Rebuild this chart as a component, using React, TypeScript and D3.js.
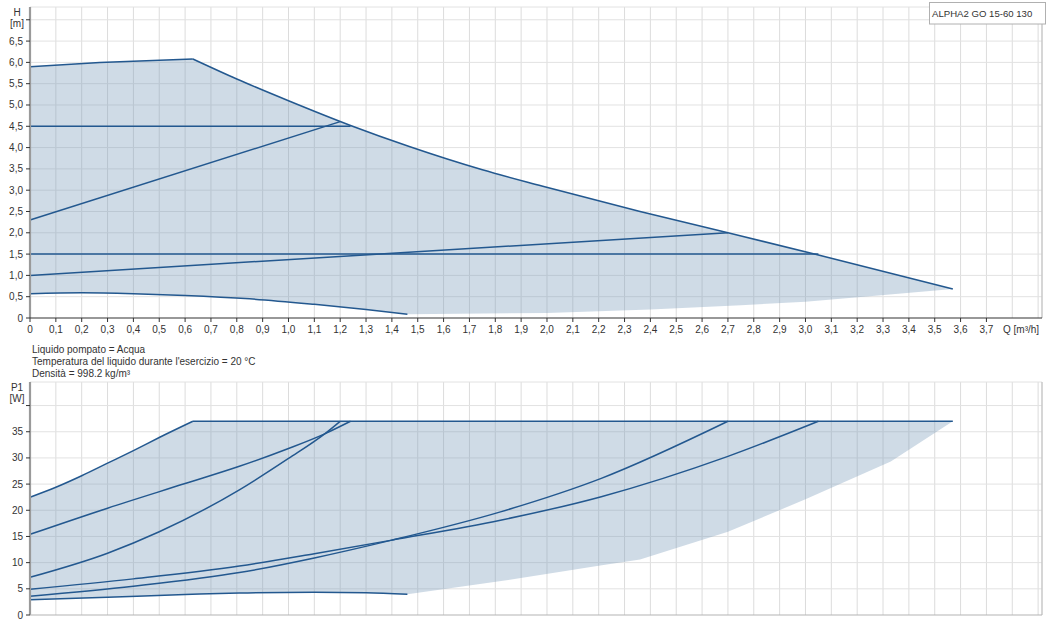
import { curveLinear, curveMonotoneX, line as d3Line, range, scaleLinear, select } from "d3";
import { useEffect, useRef } from "react";

type Pt = [number, number];

// Q tick labels (m³/h)
const qTicks = [
  0, 0.1, 0.2, 0.3, 0.4, 0.5, 0.6, 0.7, 0.8, 0.9, 1.0, 1.1, 1.2, 1.3, 1.4, 1.5, 1.6, 1.7, 1.8,
  1.9, 2.0, 2.1, 2.2, 2.3, 2.4, 2.5, 2.6, 2.7, 2.8, 2.9, 3.0, 3.1, 3.2, 3.3, 3.4, 3.5, 3.6, 3.7,
];
const hTicks = [0, 0.5, 1, 1.5, 2, 2.5, 3, 3.5, 4, 4.5, 5, 5.5, 6, 6.5];
const pTicks = [0, 5, 10, 15, 20, 25, 30, 35];

// head curves H [m]
const hMaxRise: Pt[] = [[0, 5.9], [0.27, 6.0], [0.63, 6.08]];
const hMaxFall: Pt[] = [
  [0.63, 6.08], [0.8, 5.61], [1.0, 5.1], [1.24, 4.52], [1.47, 4.02], [1.75, 3.48], [1.98, 3.1],
  [2.36, 2.5], [2.7, 2.0], [3.05, 1.48], [3.57, 0.68],
];
const hConst45: Pt[] = [[0, 4.5], [1.24, 4.5]];
const hProp46: Pt[] = [[0, 2.3], [1.2, 4.61]];
const hConst15: Pt[] = [[0, 1.5], [3.05, 1.5]];
const hProp20: Pt[] = [[0, 1.0], [2.7, 2.0]];
const hMin: Pt[] = [
  [0, 0.57], [0.2, 0.59], [0.4, 0.57], [0.6, 0.53], [0.85, 0.45], [1.1, 0.32], [1.3, 0.2], [1.46, 0.09],
];
const hFloor: Pt[] = [
  [1.46, 0.09], [2.0, 0.12], [2.4, 0.2], [2.75, 0.3], [3.0, 0.38], [3.27, 0.52], [3.57, 0.68],
];

// power curves P1 [W]
const pMaxRise: Pt[] = [[0, 22.5], [0.1, 24.4], [0.2, 26.6], [0.3, 29.0], [0.4, 31.4], [0.5, 33.9], [0.63, 37]];
const pLimit: Pt[] = [[0.63, 37], [3.57, 37]];
const pConst45: Pt[] = [[0, 15.4], [0.3, 20.4], [0.6, 25.1], [0.81, 28.4], [1.0, 31.8], [1.14, 34.6], [1.24, 37]];
const pProp46: Pt[] = [[0, 7.2], [0.3, 11.8], [0.5, 15.9], [0.81, 23.9], [1.0, 29.9], [1.14, 34.6], [1.2, 37]];
const pConst15: Pt[] = [
  [0, 4.9], [0.4, 6.9], [0.81, 9.35], [1.1, 11.7], [1.4, 14.3], [1.82, 18.1], [2.21, 22.6], [2.7, 30.3], [3.05, 37],
];
const pProp20: Pt[] = [
  [0, 3.6], [0.4, 5.5], [0.81, 8.1], [1.1, 10.9], [1.4, 14.3], [1.82, 19.7], [2.21, 26.1], [2.7, 37],
];
const pMin: Pt[] = [[0, 2.9], [0.3, 3.4], [0.6, 3.9], [0.81, 4.2], [1.1, 4.35], [1.3, 4.25], [1.46, 3.95]];
const pFloor: Pt[] = [
  [1.46, 3.95], [1.85, 6.7], [2.2, 9.4], [2.36, 10.6], [2.7, 15.9], [3.0, 22.1], [3.33, 29.3], [3.57, 37],
];

const infoLines = [
  "Liquido pompato = Acqua",
  "Temperatura del liquido durante l'esercizio = 20 °C",
  "Densità = 998.2 kg/m³",
];
const title = "ALPHA2 GO 15-60 130";

const fmt = (v: number) => (v === 0 ? "0" : v.toFixed(1).replace(".", ","));

const LINE = "#23588f";
const FONT = "'Liberation Sans', Arial, sans-serif";

export default function App() {
  const svgRef = useRef<SVGSVGElement | null>(null);

  useEffect(() => {
    if (!svgRef.current) return;
    const svg = select(svgRef.current);
    svg.selectAll("*").remove();

    const left = 30;
    const right = 1042;
    const x = scaleLinear().domain([0, 3.915]).range([left, right]);
    const yH = scaleLinear().domain([0, 7.3]).range([318, 7]);
    const yP = scaleLinear().domain([0, 44.5]).range([615, 382]);

    const pathOf = (y: typeof yH, pts: Pt[], smooth: boolean) =>
      d3Line<Pt>()
        .x((d) => x(d[0]))
        .y((d) => y(d[1]))
        .curve(smooth ? curveMonotoneX : curveLinear)(pts) ?? "";

    // joins segments into one closed outline
    const outline = (y: typeof yH, segs: [Pt[], boolean][]) =>
      segs.map(([pts, smooth], i) => {
        const p = pathOf(y, pts, smooth);
        return i === 0 ? p : "L" + p.slice(1);
      }).join("") + "Z";

    const drawPanel = (
      y: typeof yH,
      top: number,
      bottom: number,
      hGrid: number[],
      fill: string,
      curves: [Pt[], boolean][],
    ) => {
      const g = svg.append("g");
      // grid
      range(1, 40).forEach((i) => {
        g.append("line")
          .attr("x1", x(i / 10)).attr("x2", x(i / 10))
          .attr("y1", top).attr("y2", bottom)
          .attr("stroke", "#dcdcdc").attr("stroke-width", 1);
      });
      hGrid.forEach((v) => {
        g.append("line")
          .attr("x1", left).attr("x2", right)
          .attr("y1", y(v)).attr("y2", y(v))
          .attr("stroke", "#e2e2e2").attr("stroke-width", 1);
      });
      g.append("line")
        .attr("x1", left).attr("x2", right).attr("y1", top).attr("y2", top)
        .attr("stroke", "#e2e2e2");
      g.append("line")
        .attr("x1", right).attr("x2", right).attr("y1", top).attr("y2", bottom)
        .attr("stroke", "#c8c8c8").attr("stroke-width", 1.5);

      g.append("path")
        .attr("d", fill)
        .attr("fill", "#7698b8")
        .attr("fill-opacity", 0.35);

      curves.forEach(([pts, smooth]) => {
        g.append("path")
          .attr("d", pathOf(y, pts, smooth))
          .attr("fill", "none")
          .attr("stroke", LINE)
          .attr("stroke-width", 1.5)
          .attr("stroke-linejoin", "round");
      });

      g.append("line")
        .attr("x1", left).attr("x2", left).attr("y1", top).attr("y2", bottom)
        .attr("stroke", "#9a9a9a").attr("stroke-width", 2.2);
      return g;
    };

    // --- H chart
    const hFill = outline(yH, [
      [hMaxRise, false],
      [hMaxFall, true],
      [[...hFloor].reverse(), false],
      [[...hMin].reverse(), true],
    ]);
    const gH = drawPanel(yH, 7, 318, range(1, 15).map((i) => i * 0.5), hFill, [
      [hMaxRise, false], [hMaxFall, true], [hConst45, false], [hProp46, false],
      [hConst15, false], [hProp20, false], [hMin, true],
    ]);
    gH.append("line")
      .attr("x1", left).attr("x2", right).attr("y1", 318).attr("y2", 318)
      .attr("stroke", "#333").attr("stroke-width", 1.2);
    qTicks.forEach((q) => {
      gH.append("line")
        .attr("x1", x(q)).attr("x2", x(q)).attr("y1", 318).attr("y2", 322)
        .attr("stroke", "#333");
      gH.append("text")
        .attr("x", x(q)).attr("y", 333)
        .attr("text-anchor", "middle")
        .text(fmt(q));
    });
    gH.append("text").attr("x", 1003).attr("y", 333).text("Q [m³/h]");
    [...hTicks, 7].forEach((v) => {
      gH.append("line")
        .attr("x1", 26).attr("x2", left).attr("y1", yH(v)).attr("y2", yH(v))
        .attr("stroke", "#333");
    });
    hTicks.forEach((v) => {
      gH.append("text")
        .attr("x", 23).attr("y", yH(v)).attr("dy", "0.35em")
        .attr("text-anchor", "end")
        .text(fmt(v));
    });
    gH.append("text").attr("x", 17).attr("y", 16).attr("text-anchor", "middle").text("H");
    gH.append("text").attr("x", 17).attr("y", 27).attr("text-anchor", "middle").text("[m]");

    // --- P1 chart
    const pFill = outline(yP, [
      [pMaxRise, true],
      [pLimit, false],
      [[...pFloor].reverse(), false],
      [[...pMin].reverse(), true],
    ]);
    const gP = drawPanel(yP, 382, 615, range(1, 9).map((i) => i * 5), pFill, [
      [pMaxRise, true], [pLimit, false], [pConst45, true], [pProp46, true],
      [pConst15, true], [pProp20, true], [pMin, true],
    ]);
    gP.append("line")
      .attr("x1", left).attr("x2", right).attr("y1", 615).attr("y2", 615)
      .attr("stroke", "#b4b4b4").attr("stroke-width", 1.2);
    [...pTicks, 40].forEach((v) => {
      gP.append("line")
        .attr("x1", 26).attr("x2", left).attr("y1", yP(v)).attr("y2", yP(v))
        .attr("stroke", "#333");
    });
    pTicks.forEach((v) => {
      gP.append("text")
        .attr("x", 23).attr("y", yP(v)).attr("dy", "0.35em")
        .attr("text-anchor", "end")
        .text(String(v));
    });
    gP.append("text").attr("x", 17).attr("y", 391).attr("text-anchor", "middle").text("P1");
    gP.append("text").attr("x", 17).attr("y", 402).attr("text-anchor", "middle").text("[W]");

    // info text
    infoLines.forEach((t, i) => {
      svg.append("text").attr("x", 32).attr("y", 352.5 + i * 12.3).text(t);
    });

    // title box
    svg.append("rect")
      .attr("x", 929.5).attr("y", 2.5).attr("width", 116).attr("height", 21.5)
      .attr("fill", "#fff").attr("stroke", "#b0b0b0");
    svg.append("text").attr("x", 932).attr("y", 17).attr("font-size", 9.6).text(title);
  }, []);

  return (
    <svg
      ref={svgRef}
      width={1048}
      height={628}
      style={{ position: "absolute", left: 0, top: 0, background: "#fff" }}
      fontFamily={FONT}
      fontSize={10}
      fill="#333"
    />
  );
}
